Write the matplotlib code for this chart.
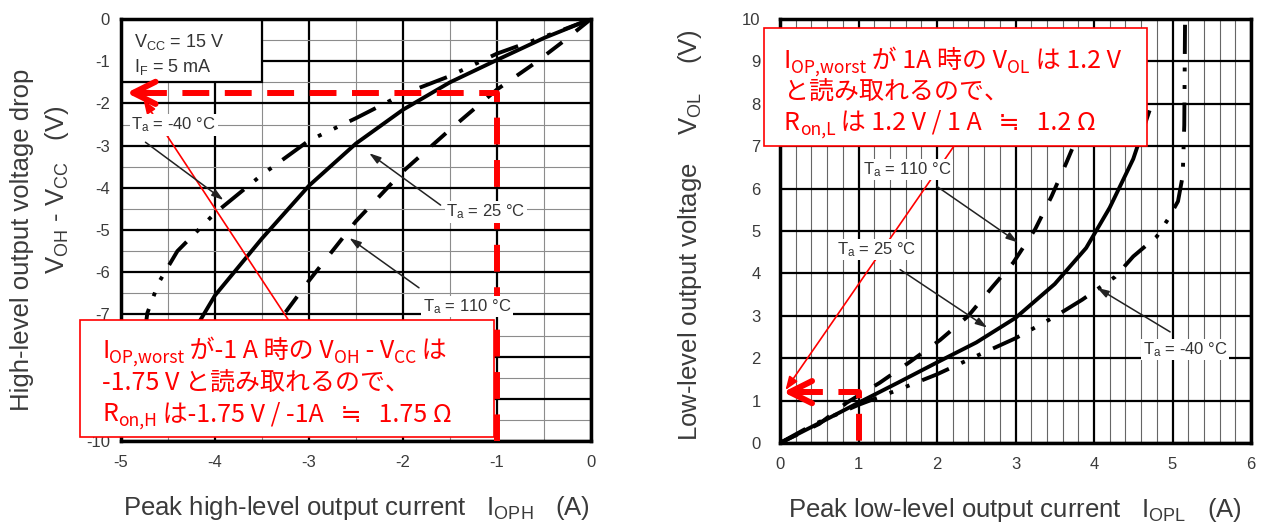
import matplotlib
matplotlib.use("Agg")
import matplotlib.pyplot as plt
from matplotlib.patches import Rectangle
from matplotlib.ticker import MultipleLocator

W, H = 1262, 525

# left chart: V_OH - V_CC vs I_OPH
h25_i = [0, -0.5, -1.0, -1.5, -2.0, -2.5, -3.0, -3.5, -4.0, -4.2, -4.4]
h25_v = [0, -0.45, -0.97, -1.5, -2.15, -2.95, -3.95, -5.2, -6.55, -7.3, -8.2]
h110_i = [0, -0.3, -0.6, -1.0, -1.5, -2.0, -2.5, -3.0, -3.3, -3.6]
h110_v = [0, -0.54, -1.05, -1.67, -2.62, -3.61, -4.79, -6.2, -7.1, -8.2]
hm40_i = [0, -0.35, -1.0, -1.5, -2.0, -2.5, -3.0, -3.5, -4.0, -4.4, -4.6, -4.72, -4.78, -4.8]
hm40_v = [0, -0.3, -0.82, -1.35, -1.78, -2.35, -2.88, -3.69, -4.6, -5.5, -6.25, -6.97, -8.0, -10.0]

# right chart: V_OL vs I_OPL
l25_i = [0, 0.5, 1.0, 1.5, 2.0, 2.5, 3.0, 3.5, 3.9, 4.2, 4.5, 4.7]
l25_v = [0, 0.47, 0.95, 1.42, 1.9, 2.37, 2.95, 3.75, 4.6, 5.55, 6.7, 7.8]
l110_i = [0, 0.5, 0.85, 1.27, 1.66, 2.04, 2.4, 2.71, 2.97, 3.25, 3.46, 3.65, 3.85]
l110_v = [0, 0.45, 0.95, 1.42, 1.92, 2.43, 3.0, 3.69, 4.25, 5.04, 5.82, 6.62, 7.5]
lm40_i = [0, 0.42, 1.0, 1.5, 2.0, 2.5, 3.0, 3.5, 3.85, 4.27, 4.5, 4.8, 4.94, 5.07, 5.13, 5.15, 5.16]
lm40_v = [0, 0.43, 0.9, 1.25, 1.62, 2.05, 2.47, 2.98, 3.38, 3.92, 4.4, 4.87, 5.27, 5.7, 6.3, 7.5, 10.0]

# tick labels (-8 and -9 sit under the red note box in the original)
left_yticks = [0, -1, -2, -3, -4, -5, -6, -7, -8, -9, -10]
left_ylabels = ['0', '-1', '-2', '-3', '-4', '-5', '-6', '-7', '', '', '-10']

# values read by the annotation
h_read_i, h_read_v = -1.0, -1.75
l_read_i, l_read_v = 1.0, 1.2

# red notes: (text, is_subscript) pieces per line
note_h = [
    [('I', False), ('OP,worst', True), (' が-1 A 時の V', False), ('OH', True),
     (' - V', False), ('CC', True), (' は', False)],
    [('-1.75 V と読み取れるので、', False)],
    [('R', False), ('on,H', True), (' は-1.75 V / -1A   ≒   1.75 Ω', False)],
]
note_l = [
    [('I', False), ('OP,worst', True), (' が 1A 時の V', False), ('OL', True),
     (' は 1.2 V', False)],
    [('と読み取れるので、', False)],
    [('R', False), ('on,L', True), (' は 1.2 V / 1 A   ≒   1.2 Ω', False)],
]

plt.rcParams['font.family'] = ['Liberation Sans', 'DejaVu Sans']
plt.rcParams['mathtext.default'] = 'regular'
plt.rcParams['axes.unicode_minus'] = False
JP = ['Noto Sans CJK JP', 'DejaVu Sans']
GRAY = '#3a3a3a'


def fx(px):
    return px / W


def fy(py):
    return 1 - py / H


def style_axes(ax, xlim, ylim, xminor, yminor, pad_y, minor_color):
    ax.set_xlim(*xlim)
    ax.set_ylim(*ylim)
    ax.xaxis.set_major_locator(MultipleLocator(1))
    ax.yaxis.set_major_locator(MultipleLocator(1))
    ax.xaxis.set_minor_locator(MultipleLocator(xminor))
    if yminor:
        ax.yaxis.set_minor_locator(MultipleLocator(yminor))
    ax.grid(which='major', color='black', lw=1.6)
    ax.grid(which='minor', color=minor_color, lw=0.8)
    ax.set_axisbelow(True)
    for s in ax.spines.values():
        s.set_linewidth(2.5)
    ax.tick_params(which='both', length=0, labelsize=12, labelcolor=GRAY)
    ax.tick_params(axis='y', pad=pad_y)
    ax.tick_params(axis='x', pad=10)


def ta_label(ax, x, y, s):
    ax.text(x, y, s, fontsize=12, color='#333333', va='center', zorder=4,
            bbox=dict(fc='white', ec='none', pad=1))


def pointer(ax, start, tip):
    ax.annotate('', xy=tip, xytext=start, zorder=4,
                arrowprops=dict(arrowstyle='-|>,head_length=0.7,head_width=0.22',
                                lw=1.1, color='#222222', shrinkA=0, shrinkB=0))


fig = plt.figure(figsize=(W / 100, H / 100), dpi=100)
renderer = fig.canvas.get_renderer()

axL = fig.add_axes([fx(121), fy(441), fx(591) - fx(121), fy(19) - fy(441)])
axR = fig.add_axes([fx(780), fy(443), fx(1251) - fx(780), fy(19) - fy(443)])

style_axes(axL, (-5, 0), (-10, 0), 0.5, 0.5, 8, '#8c8c8c')
style_axes(axR, (0, 6), (0, 10), 0.2, None, 14, '#666666')
axL.set_yticks(left_yticks, left_ylabels)

curve_kw = dict(color='black', lw=2.8, zorder=2)
dash_110 = (0, (5.0, 4.5))
dash_m40 = (0, (7.5, 3.5, 1, 3.5, 1, 3.5))

# left curves
axL.plot(h25_i, h25_v, **curve_kw)
axL.plot(h110_i, h110_v, ls=dash_110, **curve_kw)
axL.plot(hm40_i, hm40_v, ls=dash_m40, **curve_kw)

axL.add_patch(Rectangle((-5, -1.5), 1.5, 1.5, fc='white', ec='black', lw=1.6, zorder=1.5))
axL.text(-4.86, -0.55, 'V$_{CC}$ = 15 V', fontsize=13, color='#333333', va='center', zorder=4)
axL.text(-4.86, -1.14, 'I$_{F}$ = 5 mA', fontsize=13, color='#333333', va='center', zorder=4)

ta_label(axL, -4.89, -2.51, 'T$_a$ = -40 °C')
pointer(axL, (-4.74, -2.92), (-3.91, -4.29))
ta_label(axL, -1.54, -4.57, 'T$_a$ = 25 °C')
pointer(axL, (-1.6, -4.41), (-2.36, -3.18))
ta_label(axL, -1.79, -6.82, 'T$_a$ = 110 °C')
pointer(axL, (-1.83, -6.37), (-2.57, -5.19))

# right curves
axR.plot(l25_i, l25_v, **curve_kw)
axR.plot(l110_i, l110_v, ls=dash_110, **curve_kw)
axR.plot(lm40_i, lm40_v, ls=dash_m40, **curve_kw)

ta_label(axR, 1.06, 6.45, 'T$_a$ = 110 °C')
pointer(axR, (2.0, 6.05), (3.03, 4.73))
ta_label(axR, 0.73, 4.56, 'T$_a$ = 25 °C')
pointer(axR, (1.53, 4.09), (2.64, 2.72))
ta_label(axR, 4.62, 2.2, 'T$_a$ = -40 °C')
pointer(axR, (4.97, 2.62), (4.04, 3.66))

# red reading lines
red_kw = dict(color='red', lw=4.3, ls=(0, (4.5, 2.6)), zorder=3, clip_on=False)
axL.plot([-4.8, h_read_i, h_read_i], [h_read_v, h_read_v, -10], **red_kw)
axL.annotate('', xy=(-4.94, h_read_v), xytext=(-4.7, h_read_v), zorder=3,
             arrowprops=dict(arrowstyle='->,head_length=1.6,head_width=0.8',
                             lw=4.3, color='red', shrinkA=0, shrinkB=0))
axL.annotate('', xy=(-4.76, -1.92), xytext=(-3.22, -7.13), zorder=3,
             arrowprops=dict(arrowstyle='-|>,head_length=0.8,head_width=0.3',
                             lw=1.2, color='red', shrinkA=0, shrinkB=0))

axR.plot([0.2, l_read_i, l_read_i], [l_read_v, l_read_v, 0], **red_kw)
axR.annotate('', xy=(0.04, l_read_v), xytext=(0.3, l_read_v), zorder=3,
             arrowprops=dict(arrowstyle='->,head_length=1.6,head_width=0.8',
                             lw=4.3, color='red', shrinkA=0, shrinkB=0))
axR.annotate('', xy=(0.07, 1.25), xytext=(2.23, 7.04), zorder=3,
             arrowprops=dict(arrowstyle='-|>,head_length=0.8,head_width=0.3',
                             lw=1.2, color='red', shrinkA=0, shrinkB=0))


# red explanation boxes, text pieces chained along the baseline
def rich_line(x_px, y_px, parts, size=18):
    x = fx(x_px)
    for s, sub in parts:
        fs = size * 0.7 if sub else size
        dy = -size * 0.2 / 72 * 100 / H if sub else 0
        t = fig.text(x, fy(y_px) + dy, s, fontsize=fs, color='red', va='baseline',
                     family=JP, zorder=6)
        x += t.get_window_extent(renderer=renderer).width / W


def red_box(x0, y0, x1, y1, lines, tx, ty):
    fig.add_artist(Rectangle((fx(x0), fy(y1)), fx(x1) - fx(x0), fy(y0) - fy(y1),
                             transform=fig.transFigure, fc='white', ec='red',
                             lw=1.2, zorder=5))
    for parts, yy in zip(lines, ty):
        rich_line(tx, yy, parts)


red_box(80, 320, 494, 437, note_h, 102, [358, 390, 421])
red_box(764, 28, 1147, 146, note_l, 784, [68, 99, 130])

# axis labels
lab_kw = dict(fontsize=18.5, color=GRAY, ha='center', va='center')
fig.text(fx(22), fy(240), 'High-level output voltage drop', rotation=90, **lab_kw)
fig.text(fx(57), fy(190), 'V$_{OH}$ - V$_{CC}$   (V)', rotation=90, **lab_kw)
fig.text(fx(356), fy(508), 'Peak high-level output current   I$_{OPH}$   (A)', **lab_kw)
fig.text(fx(690), fy(235), 'Low-level output voltage    V$_{OL}$    (V)', rotation=90, **lab_kw)
fig.text(fx(1015), fy(510), 'Peak low-level output current   I$_{OPL}$   (A)', **lab_kw)

fig.savefig('out.png', dpi=100)
